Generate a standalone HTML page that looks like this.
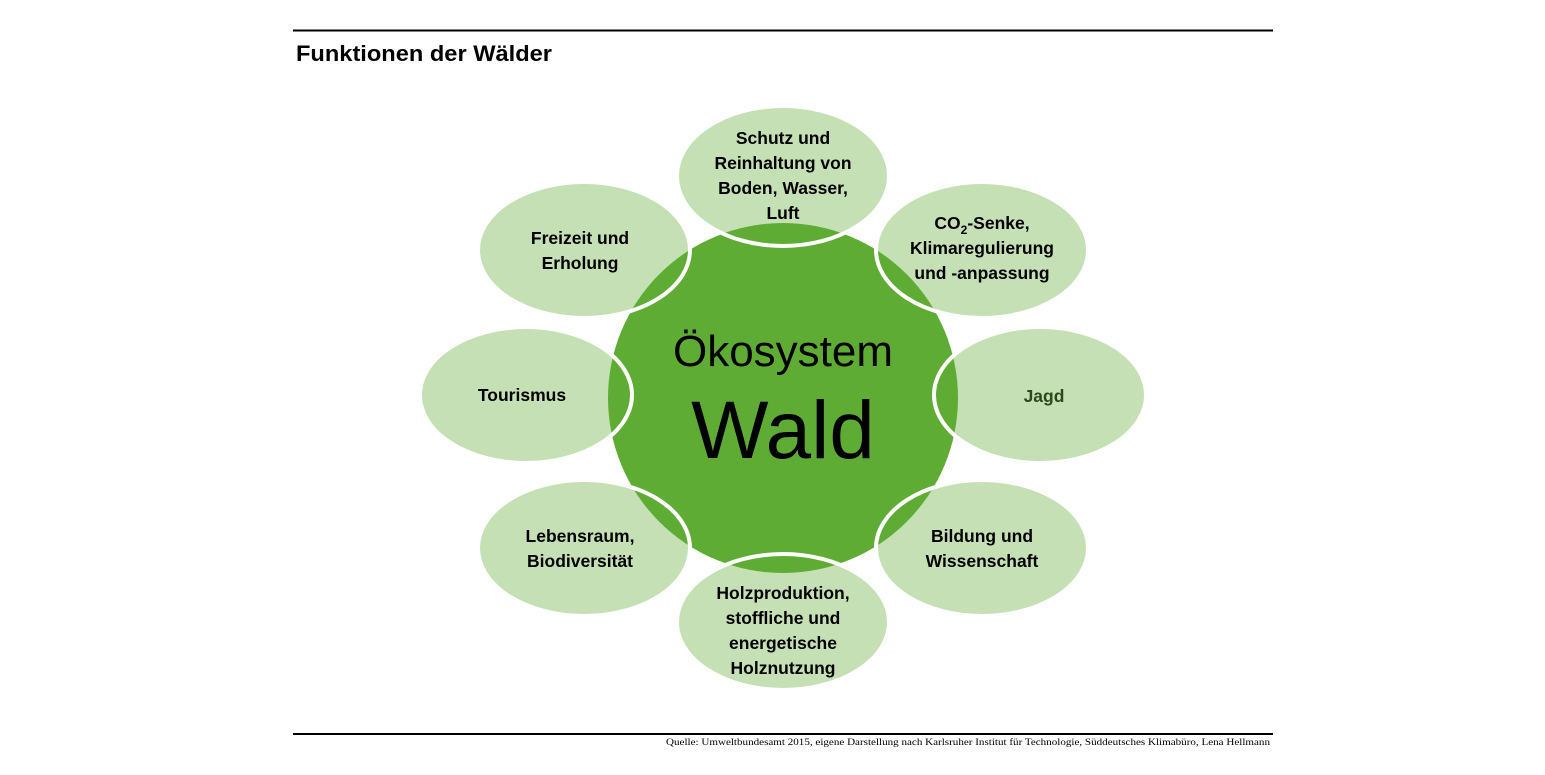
<!DOCTYPE html>
<html><head><meta charset="utf-8"><style>
body{margin:0;width:1545px;height:775px;background:#fff;overflow:hidden;font-family:"Liberation Sans",sans-serif}
</style></head><body>
<svg width="1545" height="775" viewBox="0 0 1545 775" xmlns="http://www.w3.org/2000/svg" style="position:absolute;left:0;top:0">
<defs>
<g id="ells">
<ellipse cx="783" cy="176" rx="106" ry="70"/>
<ellipse cx="982" cy="250" rx="106" ry="68"/>
<ellipse cx="1040" cy="395" rx="106" ry="68"/>
<ellipse cx="982" cy="548" rx="106" ry="68"/>
<ellipse cx="783" cy="622" rx="106" ry="68"/>
<ellipse cx="584" cy="548" rx="106" ry="68"/>
<ellipse cx="526" cy="395" rx="106" ry="68"/>
<ellipse cx="584" cy="250" rx="106" ry="68"/>
</g>
</defs>
<line x1="293" y1="30.5" x2="1273" y2="30.5" stroke="#000" stroke-width="2"/>
<line x1="293" y1="734" x2="1273" y2="734" stroke="#000" stroke-width="2"/>
<text x="296" y="61" font-family="Liberation Sans, sans-serif" font-weight="bold" font-size="22" textLength="256" lengthAdjust="spacingAndGlyphs">Funktionen der Wälder</text>
<text x="1270" y="745" text-anchor="end" font-family="Liberation Serif, serif" font-size="9.5" textLength="604" lengthAdjust="spacingAndGlyphs">Quelle: Umweltbundesamt 2015, eigene Darstellung nach Karlsruher Institut für Technologie, Süddeutsches Klimabüro, Lena Hellmann</text>
<use href="#ells" fill="#c5e0b4"/>
<circle cx="783" cy="398" r="175" fill="#5fac35"/>
<use href="#ells" fill="none" stroke="#fff" stroke-width="4"/>
<text x="783" y="366" text-anchor="middle" font-size="44" fill="#000">Ökosystem</text>
<text x="783" y="458" text-anchor="middle" font-size="82" fill="#000">Wald</text>
<g font-weight="bold" font-size="17.5" text-anchor="middle" fill="#000">
<text x="783" y="144">Schutz und</text>
<text x="783" y="169">Reinhaltung von</text>
<text x="783" y="194">Boden, Wasser,</text>
<text x="783" y="219">Luft</text>
<text x="982" y="229">CO<tspan font-size="12" dy="5">2</tspan><tspan dy="-5">-Senke,</tspan></text>
<text x="982" y="254">Klimaregulierung</text>
<text x="982" y="279">und -anpassung</text>
<text x="1044" y="402" fill="#2a4a1a">Jagd</text>
<text x="982" y="542">Bildung und</text>
<text x="982" y="567">Wissenschaft</text>
<text x="783" y="599">Holzproduktion,</text>
<text x="783" y="624">stoffliche und</text>
<text x="783" y="649">energetische</text>
<text x="783" y="674">Holznutzung</text>
<text x="580" y="542">Lebensraum,</text>
<text x="580" y="567">Biodiversität</text>
<text x="522" y="401">Tourismus</text>
<text x="580" y="244">Freizeit und</text>
<text x="580" y="269">Erholung</text>
</g>
</svg>
</body></html>
